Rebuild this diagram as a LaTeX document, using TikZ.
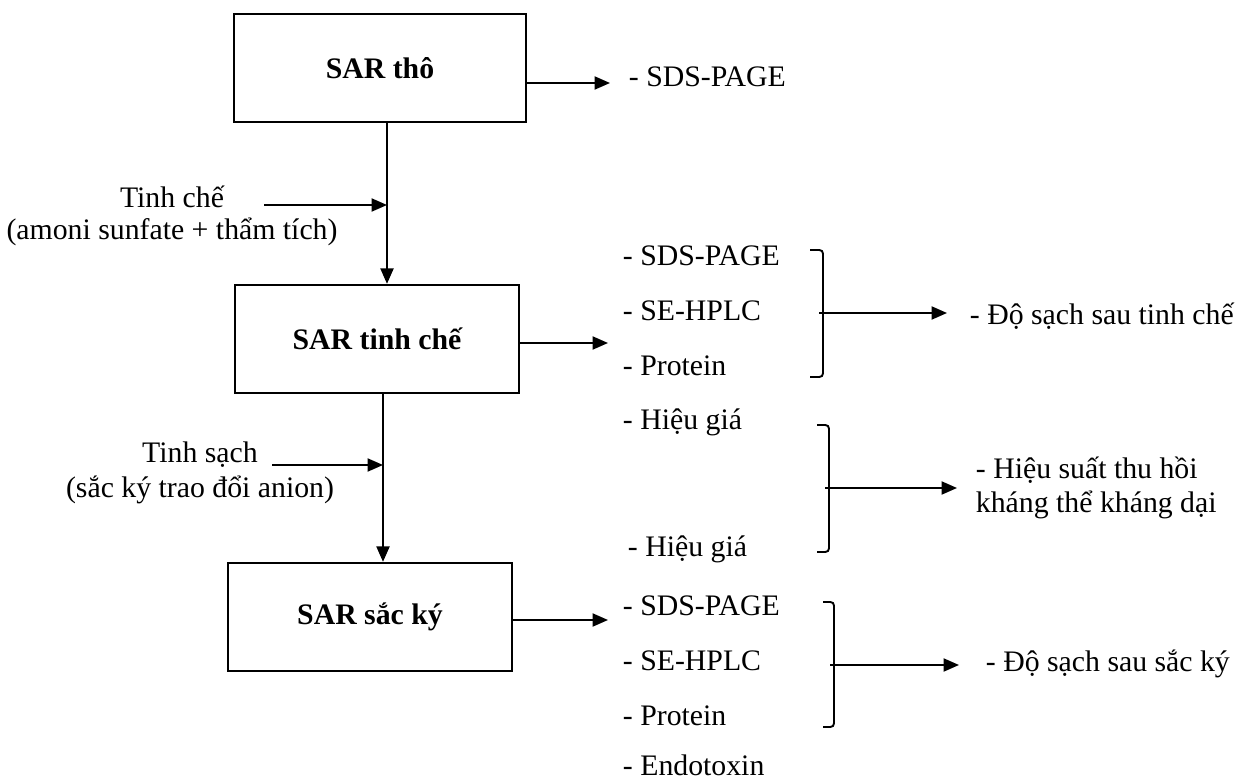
\documentclass[tikz,border=0pt]{standalone}
\usepackage{fontspec}
\setmainfont{Liberation Serif}
\usetikzlibrary{arrows.meta,positioning}
\tikzstyle{stage}=[draw,thick,minimum width=4.2cm,minimum height=1.6cm,
  font=\bfseries\fontsize{12.5}{14}\selectfont]
\tikzstyle{item}=[anchor=west,inner sep=0pt,font=\fontsize{12.5}{14}\selectfont]
\tikzstyle{brk}=[thick,rounded corners=1.5pt]

\begin{document}
\begin{tikzpicture}[x=0.01476cm, y=-0.01476cm, >={Triangle[length=6.5pt,width=5.5pt]}, thick]
  \useasboundingbox (0,0) rectangle (1238,780);

  % stages
  \node[stage, minimum width=4.3cm] (tho) at (380,68) {SAR thô};
  \node[stage] (tc) at (377,339) {SAR tinh chế};
  \node[stage] (sk) at (370,617) {SAR sắc ký};

  \coordinate (tcin) at (387,205);
  \coordinate (skin) at (383,465);
  \draw[->] (tho.south -| tcin) -- (tcin) -- (tc.north -| tcin);
  \draw[->] (tc.south -| skin) -- (skin) -- (sk.north -| skin);

  \node[item, anchor=center] (tcl) at (172,197) {Tinh chế};
  \node[item, anchor=center] (tcl2) at (172,232) {(amoni sunfate + thẩm tích)};
  \node[item, anchor=center] (skl) at (200,455) {Tinh sạch};
  \node[item, anchor=center] (skl2) at (200,490) {(sắc ký trao đổi anion)};
  \coordinate (tcfrom) at (264,205);
  \coordinate (skfrom) at (272,465);
  \draw[->] (tcfrom) -- (tcin);
  \draw[->] (skfrom) -- (skin);

  % analyses
  \node[item] (a1) at (628,77) {- SDS-PAGE};
  \node[item] (b1) at (622,256) {- SDS-PAGE};
  \node[item] (b2) at (622,311) {- SE-HPLC};
  \node[item] (b3) at (622,366) {- Protein};
  \node[item] (h1) at (622,422) {- Hiệu giá};
  \node[item] (h2) at (627,549) {- Hiệu giá};
  \node[item] (c1) at (622,606) {- SDS-PAGE};
  \node[item] (c2) at (622,661) {- SE-HPLC};
  \node[item] (c3) at (622,716) {- Protein};
  \node[item] (c4) at (622,765) {- Endotoxin};

  \coordinate (a0) at (610,83);
  \coordinate (b0) at (608,343);
  \coordinate (c0) at (608,620);
  \draw[->] (tho.east |- a0) -- (a0);
  \draw[->] (tc.east |- b0) -- (b0);
  \draw[->] (sk.east |- c0) -- (c0);

  % brackets
  \draw[brk] (810,250) -- (823,250) -- (823,377) -- (810,377);
  \draw[brk] (817,425) -- (829,425) -- (829,552) -- (817,552);
  \draw[brk] (823,602) -- (834,602) -- (834,727) -- (823,727);
  \coordinate (bm) at (823,313);
  \coordinate (hm) at (829,488);
  \coordinate (cm) at (834,665);
  \draw (bm) -- ++(-4,0) (hm) -- ++(-4,0) (cm) -- ++(-4,0);
  \coordinate (bt) at (947,313);
  \coordinate (ht) at (957,488);
  \coordinate (ct) at (959,665);

  \node[item] (rb) at (969,316) {- Độ sạch sau tinh chế};
  \node[item] (rh) at (975,470) {- Hiệu suất thu hồi};
  \node[item] (rh2) at (975,505) {kháng thể kháng dại};
  \node[item] (rc) at (985,664) {- Độ sạch sau sắc ký};

  \draw[->] (bm) -- (bt);
  \draw[->] (hm) -- (ht);
  \draw[->] (cm) -- (ct);
\end{tikzpicture}
\end{document}
